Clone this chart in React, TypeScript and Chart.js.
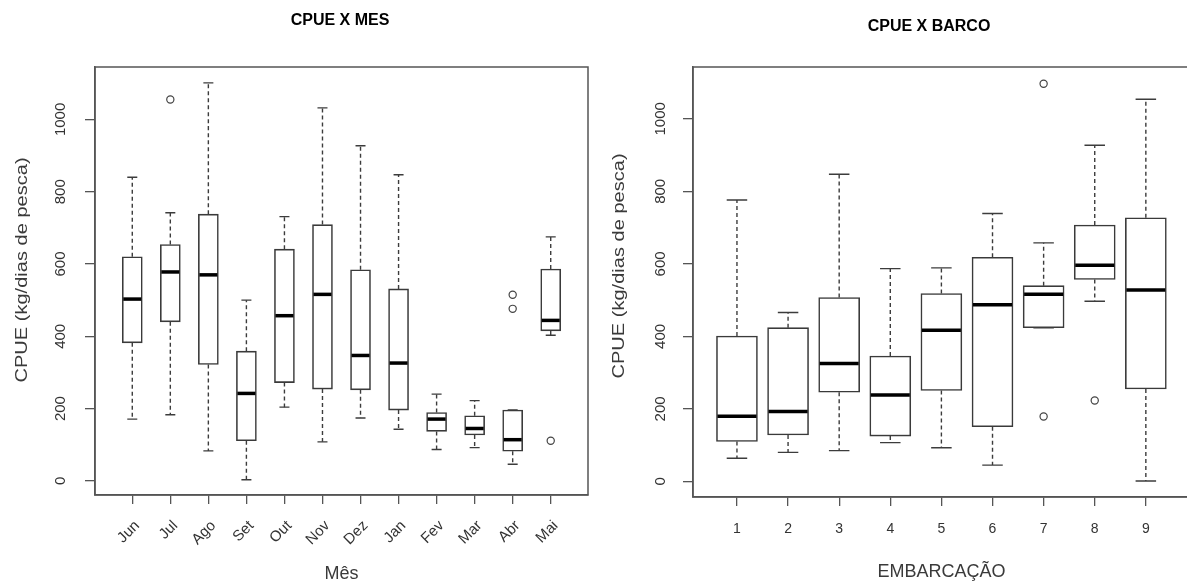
import React, { useEffect, useRef } from "react";
import { Chart, registerables } from "chart.js";

Chart.register(...registerables);

// ---------- Data: CPUE x MES ----------
const months = ["Jun", "Jul", "Ago", "Set", "Out", "Nov", "Dez", "Jan", "Fev", "Mar", "Abr", "Mai"];
const monthLow = [171, 183, 83, 3, 204, 108, 174, 143, 87, 92, 46, 403];
const monthQ1 = [382, 440, 322, 111, 272, 254, 252, 196, 137, 127, 82, 415];
const monthMedian = [503, 578, 570, 242, 457, 516, 347, 326, 171, 145, 114, 444];
const monthQ3 = [620, 654, 738, 359, 641, 709, 584, 531, 189, 180, 196, 586];
const monthHigh = [840, 742, 1101, 500, 731, 1032, 927, 847, 240, 222, 196, 675];
const monthOutlierCat = [2, 11, 11, 12];
const monthOutlierVal = [1055, 515, 476, 111];

// ---------- Data: CPUE x BARCO ----------
const boats = ["1", "2", "3", "4", "5", "6", "7", "8", "9"];
const boatLow = [64, 80, 85, 107, 93, 45, 424, 497, 1];
const boatQ1 = [110, 128, 246, 125, 251, 151, 424, 557, 255];
const boatMedian = [180, 193, 325, 238, 417, 487, 516, 596, 528];
const boatQ3 = [401, 424, 507, 346, 518, 618, 540, 707, 727];
const boatHigh = [776, 466, 847, 587, 589, 739, 658, 927, 1054];
const boatOutlierCat = [7, 7, 8];
const boatOutlierVal = [1097, 179, 223];

const yTickValues = [0, 200, 400, 600, 800, 1000];

const FONT = "'Liberation Sans', Arial, Helvetica, sans-serif";

type BoxSet = { low: number[]; q1: number[]; med: number[]; q3: number[]; high: number[] };

type Look = {
  boxPx: number;
  title: string;
  titleX: number;
  titleY: number;
  yTitleX: number;
  yTitleY: number;
  yLabelX: number;
};

function makePlugin(set: BoxSet, look: Look) {
  return {
    id: "boxExtras",
    afterDatasetsDraw(chart: any) {
      const ctx = chart.ctx as CanvasRenderingContext2D;
      const xs = chart.scales.x;
      const ys = chart.scales.y;
      ctx.save();
      for (let i = 0; i < set.med.length; i++) {
        const x = xs.getPixelForValue(i + 1);
        const yLo = ys.getPixelForValue(set.low[i]);
        const yQ1 = ys.getPixelForValue(set.q1[i]);
        const yMed = ys.getPixelForValue(set.med[i]);
        const yQ3 = ys.getPixelForValue(set.q3[i]);
        const yHi = ys.getPixelForValue(set.high[i]);
        const cap = look.boxPx / 4;
        ctx.strokeStyle = "#3c3c3c";
        ctx.lineWidth = 1.4;
        ctx.setLineDash([4, 3]);
        ctx.beginPath();
        if (set.high[i] > set.q3[i]) {
          ctx.moveTo(x, yQ3);
          ctx.lineTo(x, yHi);
        }
        if (set.low[i] < set.q1[i]) {
          ctx.moveTo(x, yQ1);
          ctx.lineTo(x, yLo);
        }
        ctx.stroke();
        ctx.setLineDash([]);
        ctx.beginPath();
        ctx.moveTo(x - cap, yHi);
        ctx.lineTo(x + cap, yHi);
        ctx.moveTo(x - cap, yLo);
        ctx.lineTo(x + cap, yLo);
        ctx.stroke();
        ctx.strokeStyle = "#000";
        ctx.lineWidth = 3.5;
        ctx.beginPath();
        ctx.moveTo(x - look.boxPx / 2 + 1, yMed);
        ctx.lineTo(x + look.boxPx / 2 - 1, yMed);
        ctx.stroke();
      }
      ctx.restore();
    },
    afterDraw(chart: any) {
      const ctx = chart.ctx as CanvasRenderingContext2D;
      const a = chart.chartArea;
      const ys = chart.scales.y;
      ctx.save();
      ctx.strokeStyle = "#555";
      ctx.lineWidth = 1.5;
      ctx.strokeRect(a.left, a.top, a.right - a.left, a.bottom - a.top);
      ctx.fillStyle = "#333";
      ctx.font = `15px ${FONT}`;
      ctx.textAlign = "center";
      ctx.textBaseline = "middle";
      for (const t of ys.ticks) {
        const y = ys.getPixelForValue(t.value);
        ctx.save();
        ctx.translate(look.yLabelX, y);
        ctx.rotate(-Math.PI / 2);
        ctx.fillText(String(t.value), 0, 0);
        ctx.restore();
      }
      ctx.save();
      ctx.fillStyle = "#3a3a3a";
      ctx.font = `17px ${FONT}`;
      ctx.translate(look.yTitleX, look.yTitleY);
      ctx.rotate(-Math.PI / 2);
      ctx.scale(1.18, 1);
      ctx.fillText("CPUE (kg/dias de pesca)", 0, 0);
      ctx.restore();
      ctx.fillStyle = "#000";
      ctx.font = `bold 16px ${FONT}`;
      ctx.fillText(look.title, look.titleX, look.titleY);
      ctx.restore();
    },
  };
}

type Spec = {
  cats: string[];
  set: BoxSet;
  outCat: number[];
  outVal: number[];
  xMin: number;
  xMax: number;
  yMin: number;
  yMax: number;
  rotate: number;
  xTitle: string;
  xTitlePad: number;
  xTickPad: number;
  xTickSize: number;
  xLabelOffset: number;
  xAxisH: number;
  yAxisW: number;
  padRight: number;
  look: Look;
};

function BoxChart({ spec, width, height }: { spec: Spec; width: number; height: number }) {
  const ref = useRef<HTMLCanvasElement | null>(null);
  useEffect(() => {
    if (!ref.current) return;
    const s = spec;
    const chart = new Chart(ref.current, {
      type: "bar",
      data: {
        datasets: [
          {
            type: "bar",
            data: s.cats.map((_, i) => ({ x: i + 1, y: [s.set.q1[i], s.set.q3[i]] })) as any,
            backgroundColor: "#ffffff",
            borderColor: "#3a3a3a",
            borderWidth: 1.6,
            borderSkipped: false,
            barThickness: s.look.boxPx,
          } as any,
          {
            type: "scatter",
            data: s.outCat.map((c, i) => ({ x: c, y: s.outVal[i] })),
            pointRadius: 3.6,
            pointBorderWidth: 1.2,
            borderColor: "#444",
            backgroundColor: "rgba(0,0,0,0)",
            showLine: false,
          } as any,
        ],
      },
      options: {
        animation: false,
        responsive: false,
        maintainAspectRatio: false,
        layout: { padding: { left: 0, right: s.padRight, top: 67, bottom: 0 } },
        plugins: { legend: { display: false }, tooltip: { enabled: false }, title: { display: false } },
        scales: {
          x: {
            type: "linear",
            min: s.xMin,
            max: s.xMax,
            offset: false,
            afterBuildTicks: (sc: any) => {
              sc.ticks = s.cats.map((_, i) => ({ value: i + 1 }));
            },
            afterFit: (sc: any) => {
              sc.height = s.xAxisH;
            },
            ticks: {
              autoSkip: false,
              minRotation: s.rotate,
              maxRotation: s.rotate,
              padding: s.xTickPad,
              labelOffset: s.xLabelOffset,
              color: "#333",
              font: { size: s.xTickSize, family: FONT },
              callback: (v: any) => s.cats[Math.round(Number(v)) - 1] ?? "",
            },
            grid: {
              offset: false,
              drawOnChartArea: false,
              drawTicks: true,
              tickLength: 9,
              color: "#555",
              lineWidth: 1.3,
            },
            border: { display: true, color: "#555", width: 1.5 },
            title: {
              display: true,
              text: s.xTitle,
              color: "#3a3a3a",
              font: { size: 18, family: FONT },
              padding: { top: 0, bottom: s.xTitlePad },
            },
          },
          y: {
            type: "linear",
            min: s.yMin,
            max: s.yMax,
            beginAtZero: false,
            afterBuildTicks: (sc: any) => {
              sc.ticks = yTickValues.map((v) => ({ value: v }));
            },
            afterFit: (sc: any) => {
              sc.width = s.yAxisW;
            },
            ticks: { color: "rgba(0,0,0,0)", font: { size: 14, family: FONT } },
            grid: { offset: false, drawOnChartArea: false, drawTicks: true, tickLength: 10, color: "#555", lineWidth: 1.3 },
            border: { display: true, color: "#555", width: 1.5 },
          },
        },
      },
      plugins: [makePlugin(s.set, s.look)],
    } as any);
    return () => chart.destroy();
  }, [spec]);
  return <canvas ref={ref} width={width} height={height} style={{ display: "block" }} />;
}

const leftSpec: Spec = {
  cats: months,
  set: { low: monthLow, q1: monthQ1, med: monthMedian, q3: monthQ3, high: monthHigh },
  outCat: monthOutlierCat,
  outVal: monthOutlierVal,
  xMin: 0.02,
  xMax: 12.98,
  yMin: -39,
  yMax: 1145,
  rotate: 45,
  xTitle: "Mês",
  xTitlePad: 0,
  xTickPad: 13,
  xTickSize: 15,
  xLabelOffset: 5,
  xAxisH: 90,
  yAxisW: 95,
  padRight: 12,
  look: { boxPx: 20, title: "CPUE X MES", titleX: 340, titleY: 21, yTitleX: 22, yTitleY: 270, yLabelX: 61 },
};

const rightSpec: Spec = {
  cats: boats,
  set: { low: boatLow, q1: boatQ1, med: boatMedian, q3: boatQ3, high: boatHigh },
  outCat: boatOutlierCat,
  outVal: boatOutlierVal,
  xMin: 0.14,
  xMax: 9.86,
  yMin: -43,
  yMax: 1143,
  rotate: 0,
  xTitle: "EMBARCAÇÃO",
  xTitlePad: 2,
  xTickPad: 15,
  xTickSize: 14,
  xLabelOffset: 0,
  xAxisH: 88,
  yAxisW: 93,
  padRight: 5,
  look: { boxPx: 41, title: "CPUE X BARCO", titleX: 329, titleY: 27, yTitleX: 19, yTitleY: 266, yLabelX: 61 },
};

export default function App() {
  return (
    <div
      style={{
        position: "fixed",
        left: 0,
        top: 0,
        width: "100vw",
        height: "100vh",
        overflow: "hidden",
        background: "#fff",
      }}
    >
      <div style={{ position: "absolute", left: 0, top: 0 }}>
        <BoxChart spec={leftSpec} width={600} height={585} />
      </div>
      <div style={{ position: "absolute", left: 600, top: 0 }}>
        <BoxChart spec={rightSpec} width={595} height={585} />
      </div>
    </div>
  );
}
